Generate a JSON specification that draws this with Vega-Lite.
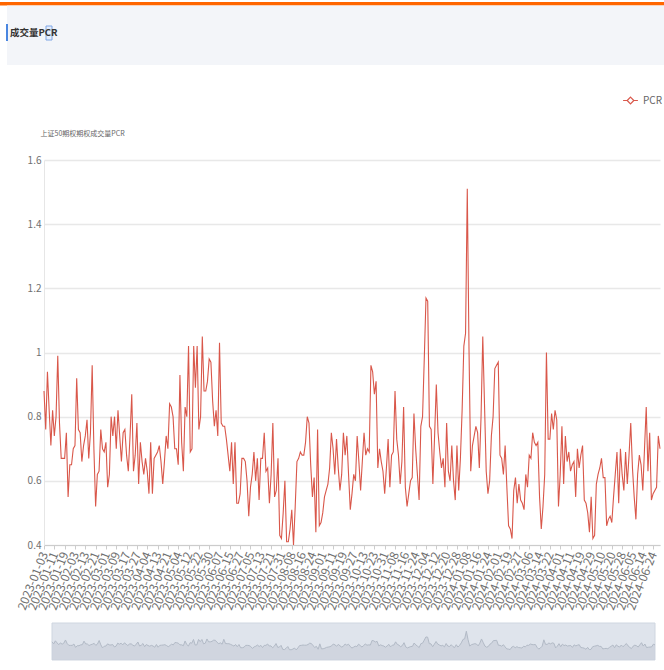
{
"$schema":"https://vega.github.io/schema/vega-lite/v6.json",
"background":"white",
"padding":{"left":0,"top":2,"right":0,"bottom":0},
"autosize":{"type":"pad"},
"width":616,"height":385,
"config":{"view":{"stroke":null},"font":"Noto Sans CJK SC"},
"resolve":{"scale":{"x":"independent","y":"independent","color":"independent"},"axis":{"x":"independent","y":"independent"}},
"datasets":{
"hdr":[{"t":"成交量PCR"}],
"pcr":[
{"d":"2023-01-03","v":0.88},{"d":"2023-01-04","v":0.76},{"d":"2023-01-05","v":0.94},{"d":"2023-01-06","v":0.82},{"d":"2023-01-09","v":0.71},{"d":"2023-01-10","v":0.82},{"d":"2023-01-11","v":0.74},{"d":"2023-01-12","v":0.80},{"d":"2023-01-13","v":0.99},{"d":"2023-01-16","v":0.78},{"d":"2023-01-17","v":0.67},{"d":"2023-01-18","v":0.67},{"d":"2023-01-19","v":0.67},{"d":"2023-01-20","v":0.75},{"d":"2023-01-30","v":0.55},{"d":"2023-01-31","v":0.65},
{"d":"2023-02-01","v":0.65},{"d":"2023-02-02","v":0.70},{"d":"2023-02-03","v":0.71},{"d":"2023-02-06","v":0.92},{"d":"2023-02-07","v":0.76},{"d":"2023-02-08","v":0.75},{"d":"2023-02-09","v":0.66},{"d":"2023-02-10","v":0.71},{"d":"2023-02-13","v":0.74},{"d":"2023-02-14","v":0.79},{"d":"2023-02-15","v":0.67},{"d":"2023-02-16","v":0.75},{"d":"2023-02-17","v":0.96},{"d":"2023-02-20","v":0.70},{"d":"2023-02-21","v":0.52},{"d":"2023-02-22","v":0.62},{"d":"2023-02-23","v":0.63},{"d":"2023-02-24","v":0.76},{"d":"2023-02-27","v":0.70},{"d":"2023-02-28","v":0.69},
{"d":"2023-03-01","v":0.72},{"d":"2023-03-02","v":0.58},{"d":"2023-03-03","v":0.62},{"d":"2023-03-06","v":0.80},{"d":"2023-03-07","v":0.74},{"d":"2023-03-08","v":0.80},{"d":"2023-03-09","v":0.70},{"d":"2023-03-10","v":0.82},{"d":"2023-03-13","v":0.74},{"d":"2023-03-14","v":0.66},{"d":"2023-03-15","v":0.75},{"d":"2023-03-16","v":0.76},{"d":"2023-03-17","v":0.68},{"d":"2023-03-20","v":0.63},{"d":"2023-03-21","v":0.74},{"d":"2023-03-22","v":0.87},{"d":"2023-03-23","v":0.63},{"d":"2023-03-24","v":0.68},{"d":"2023-03-27","v":0.78},{"d":"2023-03-28","v":0.59},{"d":"2023-03-29","v":0.72},{"d":"2023-03-30","v":0.66},{"d":"2023-03-31","v":0.62},
{"d":"2023-04-03","v":0.67},{"d":"2023-04-04","v":0.63},{"d":"2023-04-06","v":0.56},{"d":"2023-04-07","v":0.72},{"d":"2023-04-10","v":0.56},{"d":"2023-04-11","v":0.67},{"d":"2023-04-12","v":0.68},{"d":"2023-04-13","v":0.69},{"d":"2023-04-14","v":0.71},{"d":"2023-04-17","v":0.66},{"d":"2023-04-18","v":0.59},{"d":"2023-04-19","v":0.66},{"d":"2023-04-20","v":0.74},{"d":"2023-04-21","v":0.70},{"d":"2023-04-24","v":0.84},{"d":"2023-04-25","v":0.83},{"d":"2023-04-26","v":0.80},{"d":"2023-04-27","v":0.70},{"d":"2023-04-28","v":0.70},
{"d":"2023-05-04","v":0.65},{"d":"2023-05-05","v":0.93},{"d":"2023-05-08","v":0.72},{"d":"2023-05-09","v":0.63},{"d":"2023-05-10","v":0.83},{"d":"2023-05-11","v":0.80},{"d":"2023-05-12","v":1.02},{"d":"2023-05-15","v":0.69},{"d":"2023-05-16","v":0.70},{"d":"2023-05-17","v":1.02},{"d":"2023-05-18","v":0.89},{"d":"2023-05-19","v":1.02},{"d":"2023-05-22","v":0.76},{"d":"2023-05-23","v":0.80},{"d":"2023-05-24","v":1.05},{"d":"2023-05-25","v":0.88},{"d":"2023-05-26","v":0.88},{"d":"2023-05-29","v":0.91},{"d":"2023-05-30","v":0.98},{"d":"2023-05-31","v":0.97},
{"d":"2023-06-01","v":0.85},{"d":"2023-06-02","v":0.77},{"d":"2023-06-05","v":0.82},{"d":"2023-06-06","v":0.74},{"d":"2023-06-07","v":1.03},{"d":"2023-06-08","v":0.78},{"d":"2023-06-09","v":0.77},{"d":"2023-06-12","v":0.77},{"d":"2023-06-13","v":0.73},{"d":"2023-06-14","v":0.68},{"d":"2023-06-15","v":0.63},{"d":"2023-06-16","v":0.72},{"d":"2023-06-19","v":0.59},{"d":"2023-06-20","v":0.72},{"d":"2023-06-21","v":0.53},{"d":"2023-06-26","v":0.53},{"d":"2023-06-27","v":0.56},{"d":"2023-06-28","v":0.67},{"d":"2023-06-29","v":0.67},{"d":"2023-06-30","v":0.66},
{"d":"2023-07-03","v":0.60},{"d":"2023-07-04","v":0.49},{"d":"2023-07-05","v":0.58},{"d":"2023-07-06","v":0.62},{"d":"2023-07-07","v":0.69},{"d":"2023-07-10","v":0.60},{"d":"2023-07-11","v":0.67},{"d":"2023-07-12","v":0.54},{"d":"2023-07-13","v":0.67},{"d":"2023-07-14","v":0.67},{"d":"2023-07-17","v":0.75},{"d":"2023-07-18","v":0.63},{"d":"2023-07-19","v":0.64},{"d":"2023-07-20","v":0.53},{"d":"2023-07-21","v":0.62},{"d":"2023-07-24","v":0.78},{"d":"2023-07-25","v":0.55},{"d":"2023-07-26","v":0.57},{"d":"2023-07-27","v":0.67},{"d":"2023-07-28","v":0.43},{"d":"2023-07-31","v":0.42},
{"d":"2023-08-01","v":0.50},{"d":"2023-08-02","v":0.60},{"d":"2023-08-03","v":0.41},{"d":"2023-08-04","v":0.41},{"d":"2023-08-07","v":0.45},{"d":"2023-08-08","v":0.51},{"d":"2023-08-09","v":0.40},{"d":"2023-08-10","v":0.52},{"d":"2023-08-11","v":0.66},{"d":"2023-08-14","v":0.67},{"d":"2023-08-15","v":0.69},{"d":"2023-08-16","v":0.68},{"d":"2023-08-17","v":0.68},{"d":"2023-08-18","v":0.72},{"d":"2023-08-21","v":0.80},{"d":"2023-08-22","v":0.78},{"d":"2023-08-23","v":0.65},{"d":"2023-08-24","v":0.55},{"d":"2023-08-25","v":0.61},{"d":"2023-08-28","v":0.44},{"d":"2023-08-29","v":0.76},{"d":"2023-08-30","v":0.46},{"d":"2023-08-31","v":0.47},
{"d":"2023-09-01","v":0.50},{"d":"2023-09-04","v":0.55},{"d":"2023-09-05","v":0.57},{"d":"2023-09-06","v":0.59},{"d":"2023-09-07","v":0.64},{"d":"2023-09-08","v":0.75},{"d":"2023-09-11","v":0.70},{"d":"2023-09-12","v":0.62},{"d":"2023-09-13","v":0.73},{"d":"2023-09-14","v":0.64},{"d":"2023-09-15","v":0.57},{"d":"2023-09-18","v":0.62},{"d":"2023-09-19","v":0.75},{"d":"2023-09-20","v":0.68},{"d":"2023-09-21","v":0.74},{"d":"2023-09-22","v":0.62},{"d":"2023-09-25","v":0.51},{"d":"2023-09-26","v":0.56},{"d":"2023-09-27","v":0.62},{"d":"2023-09-28","v":0.60},
{"d":"2023-10-09","v":0.74},{"d":"2023-10-10","v":0.66},{"d":"2023-10-11","v":0.57},{"d":"2023-10-12","v":0.66},{"d":"2023-10-13","v":0.75},{"d":"2023-10-16","v":0.68},{"d":"2023-10-17","v":0.70},{"d":"2023-10-18","v":0.69},{"d":"2023-10-19","v":0.96},{"d":"2023-10-20","v":0.94},{"d":"2023-10-23","v":0.87},{"d":"2023-10-24","v":0.91},{"d":"2023-10-25","v":0.64},{"d":"2023-10-26","v":0.70},{"d":"2023-10-27","v":0.66},{"d":"2023-10-30","v":0.63},{"d":"2023-10-31","v":0.56},
{"d":"2023-11-01","v":0.64},{"d":"2023-11-02","v":0.73},{"d":"2023-11-03","v":0.58},{"d":"2023-11-06","v":0.68},{"d":"2023-11-07","v":0.69},{"d":"2023-11-08","v":0.88},{"d":"2023-11-09","v":0.73},{"d":"2023-11-10","v":0.68},{"d":"2023-11-13","v":0.59},{"d":"2023-11-14","v":0.66},{"d":"2023-11-15","v":0.83},{"d":"2023-11-16","v":0.58},{"d":"2023-11-17","v":0.52},{"d":"2023-11-20","v":0.56},{"d":"2023-11-21","v":0.60},{"d":"2023-11-22","v":0.61},{"d":"2023-11-23","v":0.81},{"d":"2023-11-24","v":0.70},{"d":"2023-11-27","v":0.62},{"d":"2023-11-28","v":0.54},{"d":"2023-11-29","v":0.77},{"d":"2023-11-30","v":0.80},
{"d":"2023-12-01","v":0.98},{"d":"2023-12-04","v":1.17},{"d":"2023-12-05","v":1.16},{"d":"2023-12-06","v":0.77},{"d":"2023-12-07","v":0.76},{"d":"2023-12-08","v":0.59},{"d":"2023-12-11","v":0.74},{"d":"2023-12-12","v":0.90},{"d":"2023-12-13","v":0.75},{"d":"2023-12-14","v":0.69},{"d":"2023-12-15","v":0.64},{"d":"2023-12-18","v":0.67},{"d":"2023-12-19","v":0.58},{"d":"2023-12-20","v":0.78},{"d":"2023-12-21","v":0.63},{"d":"2023-12-22","v":0.60},{"d":"2023-12-25","v":0.71},{"d":"2023-12-26","v":0.60},{"d":"2023-12-27","v":0.54},{"d":"2023-12-28","v":0.71},{"d":"2023-12-29","v":0.57},
{"d":"2024-01-02","v":0.67},{"d":"2024-01-03","v":0.82},{"d":"2024-01-04","v":1.02},{"d":"2024-01-05","v":1.06},{"d":"2024-01-08","v":1.51},{"d":"2024-01-09","v":1.01},{"d":"2024-01-10","v":0.63},{"d":"2024-01-11","v":0.71},{"d":"2024-01-12","v":0.74},{"d":"2024-01-15","v":0.77},{"d":"2024-01-16","v":0.75},{"d":"2024-01-17","v":0.64},{"d":"2024-01-18","v":0.80},{"d":"2024-01-19","v":1.05},{"d":"2024-01-22","v":0.84},{"d":"2024-01-23","v":0.63},{"d":"2024-01-24","v":0.56},{"d":"2024-01-25","v":0.60},{"d":"2024-01-26","v":0.74},{"d":"2024-01-29","v":0.80},{"d":"2024-01-30","v":0.95},{"d":"2024-01-31","v":0.96},
{"d":"2024-02-01","v":0.97},{"d":"2024-02-02","v":0.68},{"d":"2024-02-05","v":0.67},{"d":"2024-02-06","v":0.62},{"d":"2024-02-07","v":0.71},{"d":"2024-02-08","v":0.58},{"d":"2024-02-19","v":0.46},{"d":"2024-02-20","v":0.45},{"d":"2024-02-21","v":0.42},{"d":"2024-02-22","v":0.57},{"d":"2024-02-23","v":0.61},{"d":"2024-02-26","v":0.53},{"d":"2024-02-27","v":0.59},{"d":"2024-02-28","v":0.54},{"d":"2024-02-29","v":0.53},
{"d":"2024-03-01","v":0.51},{"d":"2024-03-04","v":0.62},{"d":"2024-03-05","v":0.58},{"d":"2024-03-06","v":0.68},{"d":"2024-03-07","v":0.67},{"d":"2024-03-08","v":0.75},{"d":"2024-03-11","v":0.72},{"d":"2024-03-12","v":0.71},{"d":"2024-03-13","v":0.72},{"d":"2024-03-14","v":0.55},{"d":"2024-03-15","v":0.45},{"d":"2024-03-18","v":0.52},{"d":"2024-03-19","v":0.62},{"d":"2024-03-20","v":1.00},{"d":"2024-03-21","v":0.73},{"d":"2024-03-22","v":0.73},{"d":"2024-03-25","v":0.81},{"d":"2024-03-26","v":0.76},{"d":"2024-03-27","v":0.82},{"d":"2024-03-28","v":0.79},{"d":"2024-03-29","v":0.52},
{"d":"2024-04-01","v":0.62},{"d":"2024-04-02","v":0.77},{"d":"2024-04-03","v":0.59},{"d":"2024-04-08","v":0.74},{"d":"2024-04-09","v":0.66},{"d":"2024-04-10","v":0.69},{"d":"2024-04-11","v":0.63},{"d":"2024-04-12","v":0.65},{"d":"2024-04-15","v":0.66},{"d":"2024-04-16","v":0.55},{"d":"2024-04-17","v":0.70},{"d":"2024-04-18","v":0.64},{"d":"2024-04-19","v":0.68},{"d":"2024-04-22","v":0.71},{"d":"2024-04-23","v":0.54},{"d":"2024-04-24","v":0.53},{"d":"2024-04-25","v":0.50},{"d":"2024-04-26","v":0.44},{"d":"2024-04-29","v":0.55},{"d":"2024-04-30","v":0.42},
{"d":"2024-05-06","v":0.43},{"d":"2024-05-07","v":0.59},{"d":"2024-05-08","v":0.62},{"d":"2024-05-09","v":0.64},{"d":"2024-05-10","v":0.67},{"d":"2024-05-13","v":0.61},{"d":"2024-05-14","v":0.61},{"d":"2024-05-15","v":0.46},{"d":"2024-05-16","v":0.48},{"d":"2024-05-17","v":0.49},{"d":"2024-05-20","v":0.47},{"d":"2024-05-21","v":0.55},{"d":"2024-05-22","v":0.62},{"d":"2024-05-23","v":0.69},{"d":"2024-05-24","v":0.53},{"d":"2024-05-27","v":0.70},{"d":"2024-05-28","v":0.62},{"d":"2024-05-29","v":0.57},{"d":"2024-05-30","v":0.69},{"d":"2024-05-31","v":0.59},
{"d":"2024-06-03","v":0.68},{"d":"2024-06-04","v":0.78},{"d":"2024-06-05","v":0.64},{"d":"2024-06-06","v":0.55},{"d":"2024-06-07","v":0.48},{"d":"2024-06-11","v":0.62},{"d":"2024-06-12","v":0.68},{"d":"2024-06-13","v":0.65},{"d":"2024-06-14","v":0.57},{"d":"2024-06-17","v":0.70},{"d":"2024-06-18","v":0.83},{"d":"2024-06-19","v":0.63},{"d":"2024-06-20","v":0.75},{"d":"2024-06-21","v":0.54},{"d":"2024-06-24","v":0.56},{"d":"2024-06-25","v":0.57},{"d":"2024-06-26","v":0.58},{"d":"2024-06-27","v":0.74},{"d":"2024-06-28","v":0.70}
]},
"layer":[
{
"data":{"name":"pcr"},
"mark":{"type":"line","strokeWidth":1.1},
"encoding":{
 "x":{"field":"d","type":"ordinal","sort":null,"scale":{"type":"point","padding":0},
  "axis":{"orient":"bottom","values":["2023-01-03","2023-01-11","2023-01-19","2023-02-03","2023-02-13","2023-02-21","2023-03-01","2023-03-09","2023-03-17","2023-03-27","2023-04-04","2023-04-13","2023-04-21","2023-05-04","2023-05-12","2023-05-22","2023-05-30","2023-06-07","2023-06-15","2023-06-27","2023-07-05","2023-07-13","2023-07-21","2023-07-31","2023-08-08","2023-08-16","2023-08-24","2023-09-01","2023-09-11","2023-09-19","2023-09-27","2023-10-13","2023-10-23","2023-10-31","2023-11-08","2023-11-16","2023-11-24","2023-12-04","2023-12-12","2023-12-20","2023-12-28","2024-01-08","2024-01-16","2024-01-24","2024-02-01","2024-02-19","2024-02-27","2024-03-06","2024-03-14","2024-03-22","2024-04-01","2024-04-11","2024-04-19","2024-04-29","2024-05-10","2024-05-20","2024-05-28","2024-06-05","2024-06-14","2024-06-24"],
  "labelAngle":-68,"labelFontSize":12,"labelColor":"#707070","labelPadding":3,"labelOverlap":false,
  "ticks":true,"tickSize":4,"tickColor":"#cccccc","domainColor":"#cccccc","title":null,"grid":false}},
 "y":{"field":"v","type":"quantitative","scale":{"domain":[0.4,1.6],"nice":false,"zero":false},
  "axis":{"orient":"left","grid":true,"values":[0.4,0.6,0.8,1.0,1.2,1.4,1.6],"format":"~g","title":"上证50期权期权成交量PCR","titleAngle":0,"titleAlign":"left","titleBaseline":"middle","titleX":-4,"titleY":-27,"titleFontSize":7,"titleFontWeight":"normal","titleColor":"#666666",
  "labelFontSize":10,"labelColor":"#707070","ticks":false,"labelPadding":3,"domain":true,"domainColor":"#e6e6e6","gridColor":"#e8e8e8","gridWidth":1.5}},
 "color":{"datum":"PCR","type":"nominal","scale":{"range":["#d9574a"]},
  "legend":{"orient":"none","legendX":578,"legendY":-68,"title":null,"symbolType":"M-1,0L-0.45,0M0.45,0L1,0M0,-0.45L0.45,0L0,0.45L-0.45,0Z","symbolStrokeWidth":1.2,"symbolFillColor":"white","symbolSize":220,"labelFontSize":10,"labelColor":"#666666"}}
}
},
{
"data":{"name":"hdr"},
"layer":[
{"mark":{"type":"rect","color":"#ff6600"},
 "encoding":{"x":{"datum":0,"type":"quantitative","scale":{"domain":[0,664],"range":[-44,620],"nice":false,"zero":false},"axis":null},"x2":{"datum":664},
 "y":{"datum":80,"type":"quantitative","scale":{"domain":[0,82],"range":[-78,-160],"nice":false,"zero":false},"axis":null},"y2":{"datum":76.5}}},
{"mark":{"type":"rect","color":"#f3f5f9"},
 "encoding":{"x":{"datum":7,"type":"quantitative"},"x2":{"datum":664},"y":{"datum":76.5,"type":"quantitative"},"y2":{"datum":17}}},
{"mark":{"type":"rect","color":"#4a86e0"},
 "encoding":{"x":{"datum":6,"type":"quantitative"},"x2":{"datum":8},"y":{"datum":58,"type":"quantitative"},"y2":{"datum":41}}},
{"mark":{"type":"rect","color":"#e4edfc","stroke":"#7ea6e6","strokeWidth":1},
 "encoding":{"x":{"datum":46,"type":"quantitative"},"x2":{"datum":52},"y":{"datum":56,"type":"quantitative"},"y2":{"datum":42}}},
{"mark":{"type":"text","align":"left","baseline":"middle","fontSize":9.5,"fontWeight":"bold","color":"#333333"},
 "encoding":{"text":{"field":"t"},"x":{"datum":10,"type":"quantitative"},"y":{"datum":49,"type":"quantitative"}}}
]
},
{
"data":{"name":"hdr"},
"mark":{"type":"rect","color":"#dfe4ec","stroke":"#cfd6e0","strokeWidth":1},
"encoding":{
 "x":{"datum":0,"type":"quantitative","scale":{"domain":[0,1],"range":[8,611],"nice":false,"zero":false},"axis":null},"x2":{"datum":1},
 "y":{"datum":0,"type":"quantitative","scale":{"domain":[0,1],"range":[500,463],"nice":false,"zero":false},"axis":null},"y2":{"datum":1}
}
},
{
"data":{"name":"pcr"},
"mark":{"type":"area","color":"#c9cfda","line":{"color":"#b2bac6","strokeWidth":1}},
"encoding":{
 "x":{"field":"d","type":"ordinal","sort":null,"scale":{"type":"point","padding":0,"range":[8,611]},"axis":null},
 "y":{"field":"v","type":"quantitative","scale":{"domain":[-0.2,2.0],"range":[500,463],"nice":false,"zero":false},"axis":null},
 "y2":{"datum":-0.2}
}
}
]
}
